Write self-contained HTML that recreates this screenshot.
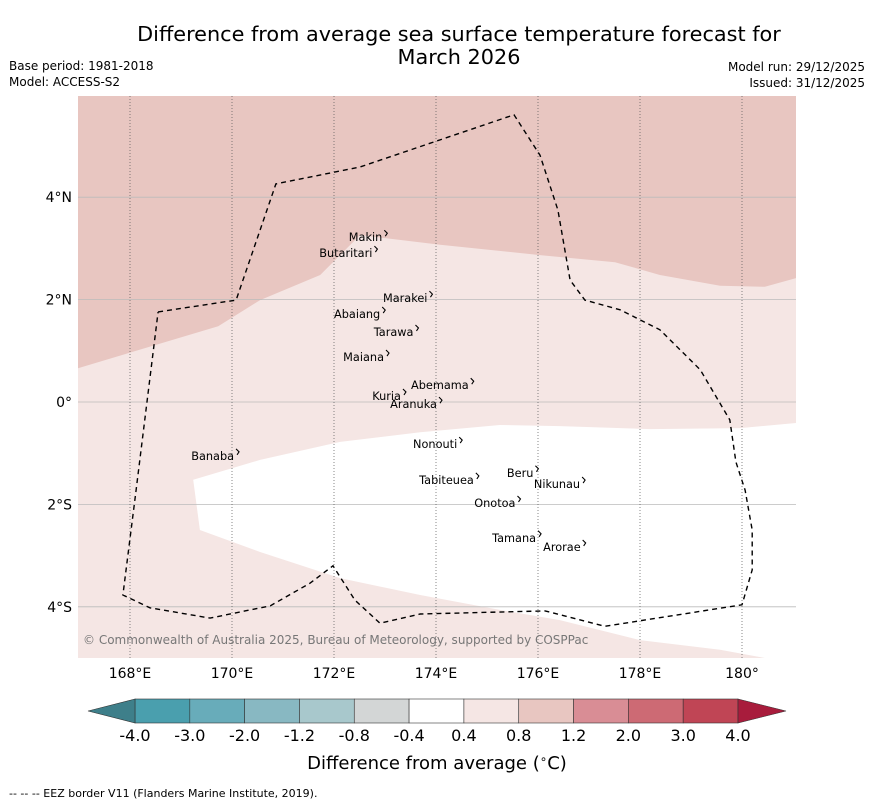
<!DOCTYPE html>
<html><head><meta charset="utf-8">
<style>
body{margin:0;background:#fff;font-family:"DejaVu Sans","Liberation Sans",sans-serif;}
svg text{font-family:"DejaVu Sans","Liberation Sans",sans-serif;}
</style></head>
<body>
<svg id="chart" width="873" height="804" viewBox="0 0 873 804" xmlns="http://www.w3.org/2000/svg">
<rect width="873" height="804" fill="#fff"/>
<text x="459" y="41" font-size="20.8" text-anchor="middle">Difference from average sea surface temperature forecast for</text>
<text x="459" y="64" font-size="20.8" text-anchor="middle">March 2026</text>
<text x="9" y="70" font-size="12">Base period: 1981-2018</text>
<text x="9" y="86" font-size="12">Model: ACCESS-S2</text>
<text x="865" y="71" font-size="12" text-anchor="end">Model run: 29/12/2025</text>
<text x="865" y="87" font-size="12" text-anchor="end">Issued: 31/12/2025</text>
<defs><clipPath id="mapclip"><rect x="78" y="96" width="718" height="562"/></clipPath></defs>
<g id="map" clip-path="url(#mapclip)">
<rect x="78" y="96" width="718" height="562" fill="#f5e6e4"/>
</g>
<g id="grid"></g>
<g id="overlay"></g>
<text x="83" y="644" font-size="12" fill="#777">© Commonwealth of Australia 2025, Bureau of Meteorology, supported by COSPPac</text>
<g id="axes"></g>
<g id="colorbar"></g>
<text x="437" y="769" font-size="18" text-anchor="middle">Difference from average (<tspan font-size="12" dy="-6">∘</tspan><tspan dy="6">C)</tspan></text>
<text x="9" y="797" font-size="11">--  --  -- EEZ border V11 (Flanders Marine Institute, 2019).</text>
</svg>
<script>
const lonTicks=[168,170,172,174,176,178,180];
const lonLabels=["168°E","170°E","172°E","174°E","176°E","178°E","180°"];
const latTicks=[4,2,0,-2,-4];
const latLabels=["4°N","2°N","0°","2°S","4°S"];
const darkContour=[[166.98,0.66],[169.73,1.48],[170.55,1.99],[171.73,2.48],[172.51,3.26],[174.08,3.07],[176.04,2.87],[177.51,2.73],[178.39,2.48],[179.57,2.27],[180.45,2.25],[181.06,2.42]];
const whiteTop=[[169.24,-1.52],[170.55,-1.13],[172.12,-0.78],[173.69,-0.59],[175.25,-0.45],[176.43,-0.47],[178.2,-0.53],[179.96,-0.51],[181.06,-0.41]];
const whiteBottom=[[169.37,-2.5],[170.55,-2.93],[172.12,-3.44],[173.69,-3.77],[175.25,-4.06],[176.43,-4.26],[178.0,-4.65],[179.57,-4.84],[180.45,-5.0]];
const eez=[[168.55,1.76],[170.08,1.99],[170.86,4.26],[172.51,4.59],[175.53,5.61],[176.04,4.82],[176.39,3.75],[176.63,2.38],[176.92,1.99],[177.61,1.80],[178.39,1.41],[179.18,0.63],[179.76,-0.35],[179.88,-1.17],[180.06,-1.72],[180.20,-2.50],[180.20,-3.28],[180.0,-3.96],[177.31,-4.38],[176.14,-4.08],[173.69,-4.14],[172.90,-4.32],[172.41,-3.87],[171.98,-3.20],[171.53,-3.54],[170.75,-3.98],[169.57,-4.22],[168.39,-4.02],[167.86,-3.77],[168.12,-1.72],[168.55,1.76]];
const islandNames=["Makin","Butaritari","Marakei","Abaiang","Tarawa","Maiana","Abemama","Kuria","Aranuka","Nonouti","Banaba","Beru","Nikunau","Tabiteuea","Onotoa","Tamana","Arorae"];
const islandLon=[172.29,171.71,172.96,172.0,172.78,172.18,173.51,172.75,173.10,173.55,169.20,175.39,175.92,173.67,174.75,175.10,176.10];
const islandLat=[3.14,2.83,1.95,1.64,1.29,0.80,0.25,0.04,-0.12,-0.90,-1.13,-1.46,-1.68,-1.60,-2.05,-2.73,-2.91];
const cbLabels=["-4.0","-3.0","-2.0","-1.2","-0.8","-0.4","0.4","0.8","1.2","2.0","3.0","4.0"];
const cbColors=["#4a9fae","#68acba","#88b8c2","#a8c8cc","#d3d6d6","#ffffff","#f5e6e4","#e8c6c1","#d98d95","#cd6a74","#c04555"];
const NS="http://www.w3.org/2000/svg";
const X=lon=>130+(lon-168)*51;
const Y=lat=>402-lat*51.2;
function mk(tag,attrs,parent){const e=document.createElementNS(NS,tag);for(const k in attrs)e.setAttribute(k,attrs[k]);parent.appendChild(e);return e;}
const pts=a=>a.map(p=>X(p[0]).toFixed(1)+","+Y(p[1]).toFixed(1)).join(" ");
const map=document.getElementById("map");
let d=mk("polygon",{points:pts([[166.9,6.2]].concat(darkContour).concat([[181.2,6.2]])),fill:"#e8c6c1"},map);


let w=mk("polygon",{points:pts(whiteTop.concat([[181.2,-5.2]]).concat(whiteBottom.slice().reverse())),fill:"#ffffff"},map);


const grid=document.getElementById("grid");
latTicks.forEach(t=>{const l=mk("line",{x1:78,x2:796,y1:Y(t),y2:Y(t),stroke:"#bbb","stroke-width":0.8},grid);

});
lonTicks.forEach(t=>{const l=mk("line",{x1:X(t),x2:X(t),y1:96,y2:658,stroke:"#555","stroke-width":0.7,"stroke-dasharray":"1,2"},grid);

});
const ov=document.getElementById("overlay");
const e=mk("polyline",{points:pts(eez),fill:"none",stroke:"#000","stroke-width":1.4,"stroke-dasharray":"5,4"},ov);


islandNames.forEach((n,i)=>{
 const t=mk("text",{x:X(islandLon[i]),y:Y(islandLat[i]),"font-size":11.3},ov);t.textContent=n;
 
 
 const m=mk("path",{d:`M${X(islandLon[i])+t.getComputedTextLength()+2},${Y(islandLat[i])-11} l3,3 l-2,3`,fill:"none",stroke:"#000","stroke-width":1.1},ov);
 
 
});
const ax=document.getElementById("axes");
lonTicks.forEach((t,i)=>{const l=mk("text",{x:X(t),y:678,"font-size":14,"text-anchor":"middle"},ax);l.textContent=lonLabels[i];

});
latTicks.forEach((t,i)=>{const l=mk("text",{x:72,y:Y(t)+5,"font-size":14,"text-anchor":"end"},ax);l.textContent=latLabels[i];

});
const cb=document.getElementById("colorbar");
const cx0=135,cx1=738,cy=699,ch=24,sw=(cx1-cx0)/cbColors.length;
cbColors.forEach((c,i)=>{const r=mk("rect",{x:cx0+i*sw,y:cy,width:sw,height:ch,fill:c,stroke:"#333","stroke-width":0.6},cb);

});
let tl=mk("polygon",{points:`${cx0},${cy} 88,${cy+ch/2} ${cx0},${cy+ch}`,fill:"#3e7f8a",stroke:"#333","stroke-width":0.6},cb);


let tr=mk("polygon",{points:`${cx1},${cy} 786,${cy+ch/2} ${cx1},${cy+ch}`,fill:"#a81c3c",stroke:"#333","stroke-width":0.6},cb);


cbLabels.forEach((s,i)=>{const l=mk("text",{x:cx0+i*sw,y:741,"font-size":16,"text-anchor":"middle"},cb);l.textContent=s;

});
</script>
</body></html>
